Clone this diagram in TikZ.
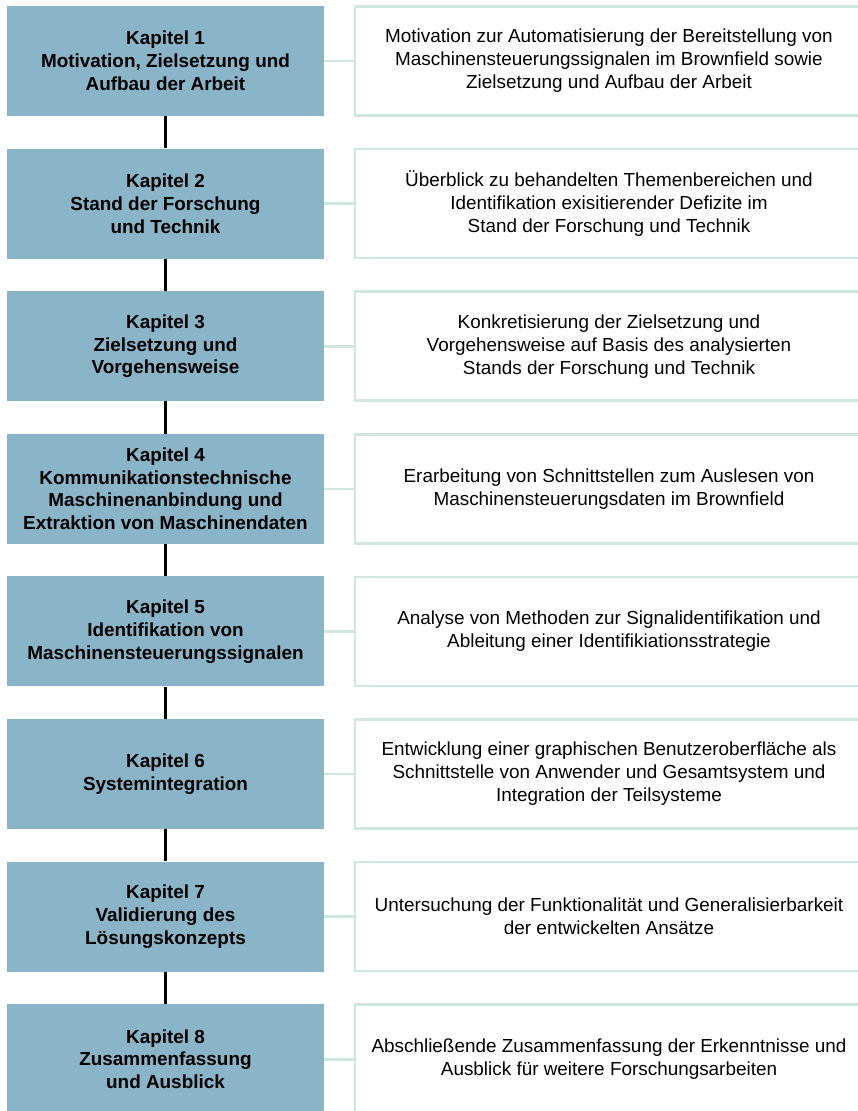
\documentclass[tikz,border=0pt]{standalone}
\usepackage{fontspec}
\setmainfont{Liberation Sans}
\definecolor{chapfill}{RGB}{138,180,200}
\definecolor{descline}{RGB}{208,230,224}
\begin{document}
\begin{tikzpicture}[x=1pt,y=-1pt,
  chapbox/.style={rectangle, fill=chapfill, draw=none, minimum width=317pt, minimum height=110pt,
    inner sep=0pt, align=center, font=\fontsize{18.9}{22.8}\selectfont\bfseries},
  descbox/.style={rectangle, fill=white, draw=descline, line width=2.6pt, minimum width=515pt,
    minimum height=109pt, inner sep=0pt},
  desctext/.style={align=center, inner sep=0pt, xshift=-3.5pt, font=\fontsize{18.9}{23}\selectfont},
  seqline/.style={line width=3pt, black},
  linkline/.style={line width=2.6pt, descline}]
\useasboundingbox (0,0) rectangle (858,1111);
\fill[white] (0,0) rectangle (858,1111);

% chapter boxes (left column) and description boxes (right column)
\foreach \i/\title in {
  1/{Kapitel 1\\Motivation, Zielsetzung und\\Aufbau der Arbeit},
  2/{Kapitel 2\\Stand der Forschung\\und Technik},
  3/{Kapitel 3\\Zielsetzung und\\Vorgehensweise},
  4/{Kapitel 4\\Kommunikationstechnische\\Maschinenanbindung und\\Extraktion von Maschinendaten},
  5/{Kapitel 5\\Identifikation von\\Maschinensteuerungssignalen},
  6/{Kapitel 6\\Systemintegration},
  7/{Kapitel 7\\Validierung des\\Lösungskonzepts},
  8/{Kapitel 8\\Zusammenfassung\\und Ausblick}}{
  \pgfmathsetmacro{\cy}{61+142.6*(\i-1)}
  \node[chapbox] (k\i) at (165.5,\cy) {\title};
  \node[descbox] (d\i) at (612.5,\cy) {};
}

% description texts
\node[desctext] (t1) at (d1.center) {Motivation zur Automatisierung der Bereitstellung von\\Maschinensteuerungssignalen im Brownfield sowie\\Zielsetzung und Aufbau der Arbeit};
\node[desctext] (t2) at (d2.center) {Überblick zu behandelten Themenbereichen und\\Identifikation exisitierender Defizite im\\Stand der Forschung und Technik};
\node[desctext] (t3) at (d3.center) {Konkretisierung der Zielsetzung und\\Vorgehensweise auf Basis des analysierten\\Stands der Forschung und Technik};
\node[desctext] (t4) at (d4.center) {Erarbeitung von Schnittstellen zum Auslesen von\\Maschinensteuerungsdaten im Brownfield};
\node[desctext] (t5) at (d5.center) {Analyse von Methoden zur Signalidentifikation und\\Ableitung einer Identifikiationsstrategie};
\node[desctext] (t6) at (d6.center) {Entwicklung einer graphischen Benutzeroberfläche als\\Schnittstelle von Anwender und Gesamtsystem und\\Integration der Teilsysteme};
\node[desctext] (t7) at (d7.center) {Untersuchung der Funktionalität und Generalisierbarkeit\\der entwickelten Ansätze};
\node[desctext] (t8) at (d8.center) {Abschließende Zusammenfassung der Erkenntnisse und\\Ausblick für weitere Forschungsarbeiten};

% links from each chapter to its description
\foreach \i in {1,...,8}{
  \draw[linkline] (k\i.east) -- (d\i.west);
}
% sequence connectors between chapters
\foreach \i [evaluate=\i as \j using int(\i+1)] in {1,...,7}{
  \draw[seqline] (k\i.south) -- (k\j.north);
}
\end{tikzpicture}
\end{document}
